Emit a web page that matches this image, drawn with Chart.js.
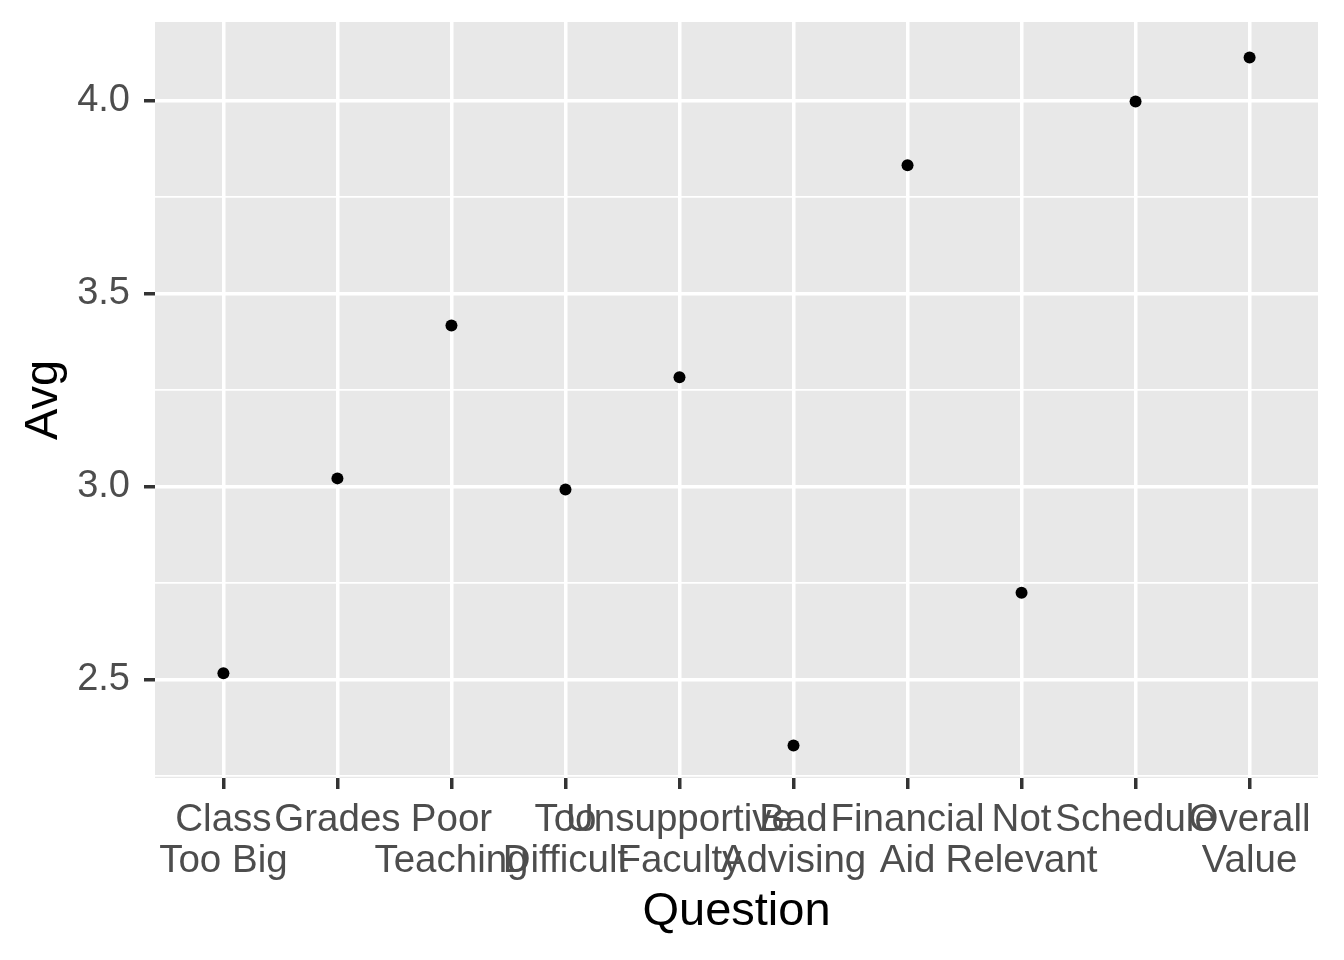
<!DOCTYPE html>
<html lang="en">
<head>
    <meta charset="UTF-8">
    <title>Avg by Question</title>
    <style>
        html, body {
            margin: 0;
            padding: 0;
            background: #ffffff;
        }
        #wrap {
            width: 1344px;
            height: 960px;
        }
    </style>
</head>
<body>
    <div id="wrap"><canvas id="myChart" width="1344" height="960"></canvas></div>

    <script src="https://cdn.jsdelivr.net/npm/chart.js"></script>
    <script>

// survey questions, in axis order (\n marks the line break of the label)
const questions = [
    'Class\nToo Big', 'Grades', 'Poor\nTeaching', 'Too\nDifficult', 'Unsupportive\nFaculty',
    'Bad\nAdvising', 'Financial\nAid', 'Not\nRelevant', 'Schedule', 'Overall\nValue'
];
// average score per question
const avgValues = [2.516, 3.021, 3.417, 2.992, 3.283, 2.329, 3.832, 2.725, 3.997, 4.111];
// labelled y ticks (minor lines sit half way between)
const yTickLabels = [2.5, 3.0, 3.5, 4.0];

const isMajor = v => yTickLabels.some(t => Math.abs(t - v) < 1e-6);

const panelBg = {
    id: 'panelBg',
    beforeDraw(chart) {
        const a = chart.chartArea;
        const ctx = chart.ctx;
        ctx.save();
        ctx.fillStyle = '#E8E8E8';
        ctx.fillRect(a.left, a.top, a.right - a.left, a.bottom - a.top);
        ctx.restore();
    }
};

const points = avgValues.map((v, i) => ({x: i + 1, y: v}));

const ctx = document.getElementById('myChart').getContext('2d');
const chart = new Chart(ctx, {
    type: 'scatter',
    data: {
        datasets: [{
            data: points,
            backgroundColor: '#000000',
            borderColor: '#000000',
            pointRadius: 6,
            pointHoverRadius: 6,
            borderWidth: 0
        }]
    },
    plugins: [panelBg],
    options: {
        responsive: false,
        animation: false,
        devicePixelRatio: 1,
        layout: {
            padding: {left: 0, right: 26, top: 22, bottom: 0}
        },
        plugins: {
            legend: {display: false},
            tooltip: {enabled: false}
        },
        scales: {
            x: {
                type: 'linear',
                min: 0.4,
                max: 10.6,
                afterFit: s => { s.height = 182; },
                border: {display: false},
                grid: {
                    color: '#ffffff',
                    lineWidth: 3.5,
                    drawTicks: true,
                    tickLength: 11,
                    tickColor: '#333333',
                    tickWidth: 3.5
                },
                ticks: {
                    stepSize: 1,
                    includeBounds: false,
                    autoSkip: false,
                    maxRotation: 0,
                    minRotation: 0,
                    padding: 11,
                    color: '#4D4D4D',
                    font: {family: 'Liberation Sans', size: 38.5, lineHeight: 1.07},
                    callback: v => {
                        const q = questions[Math.round(v) - 1];
                        return q ? q.split('\n') : '';
                    }
                },
                title: {
                    display: true,
                    text: 'Question',
                    color: '#000000',
                    font: {family: 'Liberation Sans', size: 47},
                    padding: {top: 0, bottom: 20}
                }
            },
            y: {
                min: 2.245,
                max: 4.203,
                afterFit: s => {
                    s.width = 155;
                    s.paddingTop = 0;
                    s.paddingBottom = 0;
                },
                border: {display: false},
                grid: {
                    color: '#ffffff',
                    lineWidth: c => isMajor(c.tick.value) ? 3.5 : 1.8,
                    drawTicks: true,
                    tickLength: 11,
                    tickColor: c => isMajor(c.tick.value) ? '#333333' : 'rgba(0,0,0,0)',
                    tickWidth: 3.5
                },
                ticks: {
                    stepSize: 0.25,
                    includeBounds: false,
                    padding: 14,
                    color: '#4D4D4D',
                    font: {family: 'Liberation Sans', size: 38},
                    callback: v => isMajor(v) ? v.toFixed(1) : ''
                },
                title: {
                    display: true,
                    text: 'Avg',
                    color: '#000000',
                    font: {family: 'Liberation Sans', size: 47},
                    padding: {top: 16, bottom: 0}
                }
            }
        }
    }
});

    </script>
</body>
</html>
